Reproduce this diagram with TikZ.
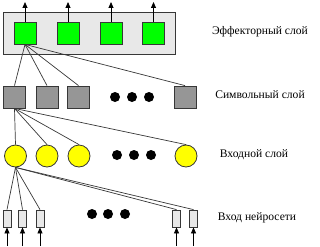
\documentclass[tikz,border=0pt]{standalone}
\usepackage{fontspec}
\setmainfont{Liberation Serif}
\usetikzlibrary{arrows.meta}
\definecolor{EffGreen}{RGB}{0,255,0}
\definecolor{SymGray}{RGB}{150,150,150}
\definecolor{InYellow}{RGB}{255,255,0}
\definecolor{FrameGray}{RGB}{232,232,232}
\definecolor{EdgeGray}{RGB}{55,55,55}

\begin{document}
\begin{tikzpicture}[x=1pt,y=-1pt,
    frame/.style={draw=EdgeGray, fill=FrameGray, line width=0.8pt, inner sep=0pt},
    effector/.style={draw=EdgeGray, fill=EffGreen, line width=0.8pt, minimum size=22pt, inner sep=0pt},
    symbol/.style={draw=EdgeGray, fill=SymGray, line width=0.8pt, minimum size=22pt, inner sep=0pt},
    inunit/.style={circle, draw=EdgeGray, fill=InYellow, line width=0.8pt, minimum size=22pt, inner sep=0pt},
    sensor/.style={draw=EdgeGray, fill=FrameGray, line width=0.8pt, minimum width=8pt, minimum height=17pt, inner sep=0pt},
    dot/.style={circle, fill=black, minimum size=10pt, inner sep=0pt},
    link/.style={draw=EdgeGray, line width=0.7pt},
    signal/.style={draw=black, line width=0.8pt, -{Triangle[length=6pt,width=5pt]}},
    layername/.style={font=\fontsize{11.6}{13}\selectfont, inner sep=0pt}
]
    \useasboundingbox (0,0) rectangle (320,246);

    % Effector layer (framed)
    \node[frame, minimum width=172pt, minimum height=42pt] (frame) at (89,33) {};
    \foreach \n/\x in {1/25,2/68,3/111,4/153.5} {
        \node[effector] (e\n) at (\x,33) {};
        \coordinate (out\n) at (\x,2);
        \draw[signal] (e\n.north) -- (out\n);
    }

    % Symbol layer
    \foreach \n/\x in {1/14.5,2/47,3/78.5,4/185} {
        \node[symbol] (s\n) at (\x,97) {};
        \draw[link] (e1.south) -- (s\n.north);
    }
    \foreach \n/\x in {1/115,2/132,3/149}
        \node[dot] (sd\n) at (\x,97) {};

    % Input layer
    \foreach \n/\x in {1/15.5,2/47,3/79,4/186} {
        \node[inunit] (c\n) at (\x,156) {};
        \draw[link] (s1.south) -- (c\n.north);
    }
    \foreach \n/\x in {1/117,2/134,3/151}
        \node[dot] (cd\n) at (\x,155) {};

    % Network input
    \foreach \n/\x in {1/7,2/22.5,3/40,4/176.5,5/193.5} {
        \node[sensor] (r\n) at (\x,218.5) {};
        \draw[link] (c1.south) -- (r\n.north);
        \coordinate (in\n) at (\x,246);
        \draw[signal] (in\n) -- (r\n.south);
    }
    \foreach \n/\x in {1/92,2/108,3/125}
        \node[dot] (rd\n) at (\x,214) {};

    % Layer names
    \node[layername] (effname) at (260,32) {Эффекторный слой};
    \node[layername] (symname) at (260,95) {Символьный слой};
    \node[layername] (inname) at (254,155) {Входной слой};
    \node[layername] (netname) at (257,218) {Вход нейросети};
\end{tikzpicture}
\end{document}
